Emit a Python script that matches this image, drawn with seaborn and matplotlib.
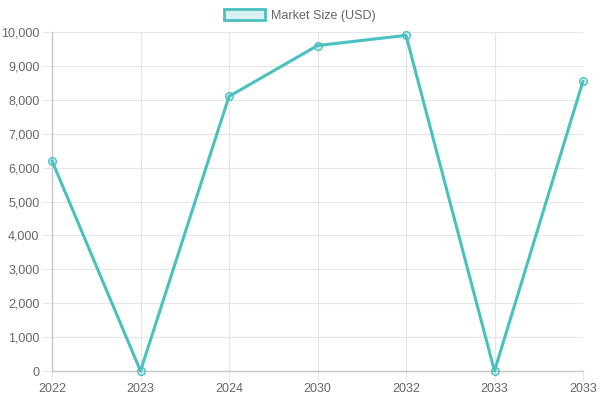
import matplotlib
matplotlib.use("Agg")
import matplotlib.pyplot as plt
import seaborn as sns
import pandas as pd
from matplotlib.patches import Patch
from matplotlib.ticker import FuncFormatter, MultipleLocator

years = ["2022", "2023", "2024", "2030", "2032", "2033", "2033"]
market_size = [6200, 0, 8100, 9600, 9900, 0, 8550]
series_label = "Market Size (USD)"

sns.set_theme(style="white")
plt.rcParams["font.family"] = ["Liberation Sans", "DejaVu Sans"]

df = pd.DataFrame({"idx": list(range(len(years))), "value": market_size})

fig = plt.figure(figsize=(6, 4), dpi=100)
ax = fig.add_axes([52/600, 29/400, (583-52)/600, (371-32)/400])

line_color = "#4bc0c0"
fill_color = (75/255, 192/255, 192/255, 0.2)
grid_color = "#e6e6e6"

sns.lineplot(data=df, x="idx", y="value", ax=ax, color=line_color, linewidth=2.2,
             marker="o", markersize=5.5, markerfacecolor=fill_color,
             markeredgecolor=line_color, markeredgewidth=1, legend=False, zorder=3)
for ln in ax.lines:
    ln.set_clip_on(False)

ax.set_xlim(0, len(years) - 1)
ax.set_ylim(0, 10000)
ax.set_xticks(range(len(years)))
ax.set_xticklabels(years)
ax.yaxis.set_major_locator(MultipleLocator(1000))
ax.yaxis.set_major_formatter(FuncFormatter(lambda v, p: f"{int(v):,}"))
ax.set_xlabel("")
ax.set_ylabel("")

ax.grid(True, color=grid_color, linewidth=0.8, alpha=1)
for side in ["top", "right"]:
    ax.spines[side].set_visible(False)
for side in ["left", "bottom"]:
    ax.spines[side].set_color("#c8c8c8")
    ax.spines[side].set_linewidth(1)
ax.tick_params(axis="both", which="major", length=7, width=0.8, color=grid_color,
               labelsize=9, labelcolor="#666666", pad=2, direction="out",
               left=True, bottom=True)

handle = Patch(facecolor=fill_color, edgecolor=line_color, linewidth=2)
fig.legend(handles=[handle], labels=[series_label], loc="upper center",
           bbox_to_anchor=(0.5, 1.0), ncol=1, frameon=False, fontsize=9,
           labelcolor="#666666", handlelength=3.3, handleheight=1.0,
           handletextpad=0.5, borderaxespad=0.3)

fig.savefig("out.png", dpi=100)
